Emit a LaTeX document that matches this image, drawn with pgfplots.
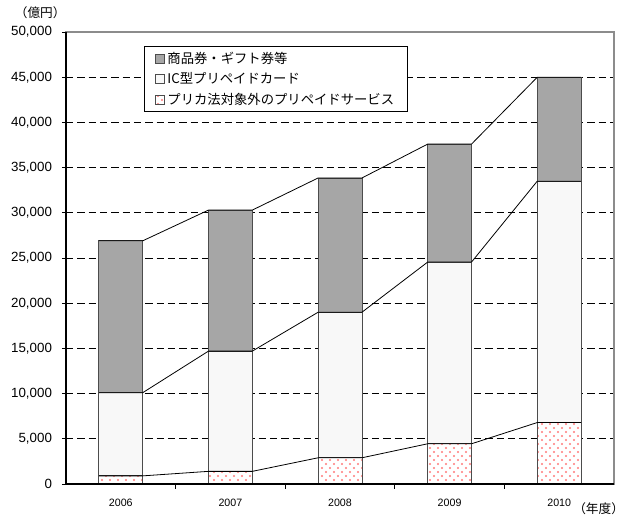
\documentclass[border=0pt]{standalone}
\usepackage{fontspec}
\setmainfont{Liberation Sans}
\newfontfamily\jp{Noto Sans CJK JP}
\usepackage{pgfplots}
\pgfplotsset{compat=1.18}
\usetikzlibrary{patterns.meta}
\definecolor{topgray}{HTML}{A6A6A6}
\definecolor{midfill}{HTML}{F8F8F8}
\definecolor{dotpink}{HTML}{FF7A7A}
\tikzdeclarepattern{
  name=pinkdots,
  type=uncolored,
  bottom left={(-0.5pt,-0.5pt)},
  top right={(6.5pt,6.5pt)},
  tile size={(6pt,6pt)},
  code={
    \fill (1.5pt,1.5pt) circle (0.8pt);
    \fill (4.5pt,4.5pt) circle (0.8pt);
  }
}
\begin{document}
\begin{tikzpicture}
\begin{axis}[
  scale only axis, width=411pt, height=339pt,
  xmin=-0.5, xmax=4.5, ymin=0, ymax=50000,
  ybar, bar width=0.4, bar shift=0pt,
  xtick={0,1,2,3,4}, xticklabels={2006,2007,2008,2009,2010},
  minor xtick={0.5,1.5,2.5,3.5},
  major x tick style={draw=none},
  minor tick length=3.5pt,
  xtick pos=bottom, ytick pos=left,
  ytick distance=5000,
  major tick length=3pt,
  major y tick style={xshift=-3pt},
  ymajorgrids, major grid style={black, dash pattern=on 5.5pt off 3pt, line width=0.5pt},
  axis line style={black!45, line width=0.8pt},
  tick style={black, line width=0.6pt},
  /pgf/number format/assume math mode=true,
  /pgf/number format/1000 sep={,},
  scaled y ticks=false,
  yticklabel style={font=\fontsize{10}{12}\selectfont, xshift=-7pt},
  xticklabel style={font=\fontsize{8}{9}\selectfont, yshift=-5pt},
  legend style={at={(0.1423,0.969)}, anchor=north west, draw=black, line width=0.6pt,
     font=\jp\fontsize{10}{12}\selectfont, row sep=1.6pt, inner xsep=8pt, inner ysep=2pt},
  legend cell align=left,
  legend image code/.code={\draw[#1, line width=0.5pt] (0pt,-3.4pt) rectangle (6.8pt,3.4pt);},
  clip=false,
]
\addplot[fill=topgray, draw=black!70, line width=0.6pt] coordinates {(0,26900) (1,30300) (2,33850) (3,37600) (4,45000)};
\addlegendentry{商品券・ギフト券等}
\addplot[fill=midfill, draw=black!70, line width=0.6pt] coordinates {(0,10100) (1,14700) (2,19000) (3,24550) (4,33500)};
\addlegendentry{IC型プリペイドカード}
\addplot[preaction={fill=white}, pattern=pinkdots, pattern color=dotpink, draw=black!70, line width=0.6pt] coordinates {(0,900) (1,1400) (2,2900) (3,4450) (4,6800)};
\addlegendentry{プリカ法対象外のプリペイドサービス}
% connecting lines
\addplot[sharp plot, black, line width=0.6pt, forget plot] coordinates {(-0.2,26900) (0.2,26900) (0.8,30300) (1.2,30300) (1.8,33850) (2.2,33850) (2.8,37600) (3.2,37600) (3.8,45000) (4.2,45000)};
\addplot[sharp plot, black, line width=0.6pt, forget plot] coordinates {(-0.2,10100) (0.2,10100) (0.8,14700) (1.2,14700) (1.8,19000) (2.2,19000) (2.8,24550) (3.2,24550) (3.8,33500) (4.2,33500)};
\addplot[sharp plot, black, line width=0.6pt, forget plot] coordinates {(-0.2,900) (0.2,900) (0.8,1400) (1.2,1400) (1.8,2900) (2.2,2900) (2.8,4450) (3.2,4450) (3.8,6800) (4.2,6800)};
\draw[black, line width=1pt] (rel axis cs:0,1) -- (rel axis cs:0,0) -- (rel axis cs:1,0);
\node[inner sep=0pt, font=\jp\fontsize{9.5}{10}\selectfont] at (rel axis cs:-0.047,1.042) {（億円）};
\node[inner sep=0pt, font=\jp\fontsize{9.5}{10}\selectfont] at (rel axis cs:0.972,-0.055) {（年度）};
\path (rel axis cs:-0.1204,-0.0752) rectangle (rel axis cs:1.0201,1.0708);
\end{axis}
\end{tikzpicture}
\end{document}
